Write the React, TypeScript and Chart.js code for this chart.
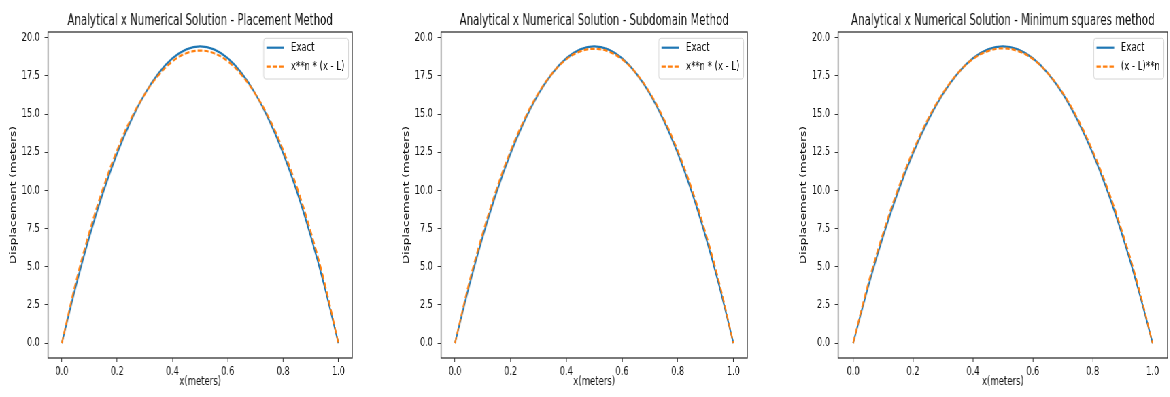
import React, { useEffect, useRef } from "react";
import { Chart, registerables } from "chart.js";

Chart.register(...registerables);

// ---------- data ----------
const xValues = [0, 0.05, 0.1, 0.15, 0.2, 0.25, 0.3, 0.35, 0.4, 0.45, 0.5, 0.55, 0.6, 0.65, 0.7, 0.75, 0.8, 0.85, 0.9, 0.95, 1.0];

const exactValues = [0, 3.69, 6.99, 9.91, 12.43, 14.57, 16.32, 17.68, 18.65, 19.23, 19.43, 19.23, 18.65, 17.68, 16.32, 14.57, 12.43, 9.91, 6.99, 3.69, 0];

const placementValues = [0, 3.95, 7.3, 10.2, 12.65, 14.7, 16.3, 17.55, 18.45, 18.98, 19.15, 18.98, 18.45, 17.55, 16.3, 14.7, 12.65, 10.2, 7.3, 3.95, 0];

const subdomainValues = [0, 3.9, 7.22, 10.12, 12.6, 14.68, 16.38, 17.68, 18.58, 19.1, 19.27, 19.1, 18.58, 17.68, 16.38, 14.68, 12.6, 10.12, 7.22, 3.9, 0];

const minSquaresValues = [0, 3.88, 7.2, 10.1, 12.58, 14.68, 16.38, 17.68, 18.6, 19.12, 19.3, 19.12, 18.6, 17.68, 16.38, 14.68, 12.58, 10.1, 7.2, 3.88, 0];

const panelTitles = [
  "Analytical x Numerical Solution - Placement Method",
  "Analytical x Numerical Solution - Subdomain Method",
  "Analytical x Numerical Solution - Minimum squares method",
];
const exactLabel = "Exact";
const approxLabels = ["x**n * (x - L)", "x**n * (x - L)", "(x - L)**n"];
const approxSeries = [placementValues, subdomainValues, minSquaresValues];
const xAxisTitle = "x(meters)";
const yAxisTitle = "Displacement (meters)";
const xTickStep = 0.2;
const yTickStep = 2.5;

// ---------- layout / style ----------
const S = 0.68; // horizontal squeeze of the reference
const FONT = "'DejaVu Sans', sans-serif";
const H = 397;
const Y_AXIS_W = 70.5;
const PANELS = [
  { left: 0, plotW: 447 },
  { left: 578, plotW: 450 },
  { left: 1162, plotW: 484 },
];
const BLUE = "#1f77b4";
const ORANGE = "#ff7f0e";
const TEXT = "#111";

const decorPlugin = {
  id: "decor",
  afterDraw(chart: any, _args: any, opts: any) {
    const { ctx, chartArea: ca } = chart;
    ctx.save();
    // axes frame
    ctx.strokeStyle = "#333";
    ctx.lineWidth = 1.3;
    ctx.strokeRect(ca.left, ca.top, ca.right - ca.left, ca.bottom - ca.top);
    // title
    ctx.fillStyle = TEXT;
    ctx.font = `15px ${FONT}`;
    ctx.textAlign = "center";
    ctx.textBaseline = "alphabetic";
    ctx.fillText(opts.title, (ca.left + ca.right) / 2, 24.5);
    // legend
    ctx.font = `12.5px ${FONT}`;
    const ds = chart.data.datasets;
    let maxW = 0;
    ds.forEach((d: any) => {
      maxW = Math.max(maxW, ctx.measureText(d.label).width);
    });
    const boxW = 40 + maxW + 6;
    const boxH = 40.7;
    const boxRight = ca.right - 5.4;
    const boxLeft = boxRight - boxW;
    const boxTop = ca.top + 6.3;
    ctx.beginPath();
    if ((ctx as any).roundRect) (ctx as any).roundRect(boxLeft, boxTop, boxW, boxH, 3);
    else ctx.rect(boxLeft, boxTop, boxW, boxH);
    ctx.fillStyle = "rgba(255,255,255,0.8)";
    ctx.fill();
    ctx.strokeStyle = "#d4d4d4";
    ctx.lineWidth = 1;
    ctx.stroke();
    ds.forEach((d: any, i: number) => {
      const y = boxTop + 9.4 + i * 19;
      ctx.beginPath();
      ctx.setLineDash(d.borderDash || []);
      ctx.strokeStyle = d.borderColor;
      ctx.lineWidth = d.borderWidth;
      ctx.moveTo(boxLeft + 4, y);
      ctx.lineTo(boxLeft + 30, y);
      ctx.stroke();
      ctx.setLineDash([]);
      ctx.fillStyle = TEXT;
      ctx.textAlign = "left";
      ctx.textBaseline = "middle";
      ctx.fillText(d.label, boxLeft + 40, y + 0.5);
    });
    ctx.restore();
  },
};

function Panel({ index }: { index: number }) {
  const ref = useRef<HTMLCanvasElement | null>(null);
  const p = PANELS[index];
  const W = Y_AXIS_W + p.plotW + 12;

  useEffect(() => {
    if (!ref.current) return;
    const chart = new Chart(ref.current, {
      type: "line",
      data: {
        datasets: [
          {
            label: exactLabel,
            data: xValues.map((x, i) => ({ x, y: exactValues[i] })),
            borderColor: BLUE,
            backgroundColor: BLUE,
            borderWidth: 2.2,
            pointRadius: 0,
            tension: 0.4,
            order: 1,
          },
          {
            label: approxLabels[index],
            data: xValues.map((x, i) => ({ x, y: approxSeries[index][i] })),
            borderColor: ORANGE,
            backgroundColor: ORANGE,
            borderWidth: 2.2,
            borderDash: [6.5, 3],
            pointRadius: 0,
            tension: 0.4,
            order: 0,
          },
        ],
      },
      options: {
        animation: false,
        responsive: false,
        devicePixelRatio: 1,
        layout: { padding: { top: 32, right: W - Y_AXIS_W - p.plotW, left: 0, bottom: 0 } },
        plugins: {
          legend: { display: false },
          tooltip: { enabled: false },
          title: { display: false },
          decor: { title: panelTitles[index] },
        } as any,
        scales: {
          x: {
            type: "linear",
            min: -0.05,
            max: 1.05,
            afterFit: (s: any) => {
              s.height = 39;
            },
            grid: {
              display: true,
              drawOnChartArea: false,
              drawTicks: true,
              tickLength: 4,
              color: "#333",
              tickColor: "#333",
            },
            border: { display: false },
            ticks: {
              stepSize: xTickStep,
              includeBounds: false,
              maxRotation: 0,
              autoSkip: false,
              padding: 3,
              color: TEXT,
              font: { family: FONT, size: 12 },
              callback: (v: any) => Number(v).toFixed(1),
            },
            title: {
              display: true,
              text: xAxisTitle,
              color: TEXT,
              font: { family: FONT, size: 12.5 },
              padding: { top: 0, bottom: 7.5 },
            },
          },
          y: {
            type: "linear",
            min: -0.97,
            max: 20.37,
            afterFit: (s: any) => {
              s.width = Y_AXIS_W;
            },
            grid: {
              display: true,
              drawOnChartArea: false,
              drawTicks: true,
              tickLength: 5,
              color: "#333",
              tickColor: "#333",
            },
            border: { display: false },
            ticks: {
              stepSize: yTickStep,
              includeBounds: false,
              autoSkip: false,
              padding: 7,
              color: TEXT,
              font: { family: FONT, size: 12 },
              callback: (v: any) => Number(v).toFixed(1),
            },
            title: {
              display: true,
              text: yAxisTitle,
              color: TEXT,
              font: { family: FONT, size: 12 },
              padding: { top: 13, bottom: 0 },
            },
          },
        },
      },
      plugins: [decorPlugin as any],
    });
    return () => chart.destroy();
  }, [index]);

  return (
    <canvas
      ref={ref}
      width={W}
      height={H}
      style={{ position: "absolute", left: p.left, top: 0, width: W, height: H }}
    />
  );
}

export default function App() {
  useEffect(() => {
    document.body.style.overflow = "hidden";
  }, []);
  return (
    <div
      style={{
        position: "absolute",
        left: 0,
        top: 0,
        width: 1170 / S,
        height: H,
        overflow: "hidden",
        background: "#fff",
        transform: `scaleX(${S})`,
        transformOrigin: "0 0",
      }}
    >
      <Panel index={0} />
      <Panel index={1} />
      <Panel index={2} />
    </div>
  );
}
